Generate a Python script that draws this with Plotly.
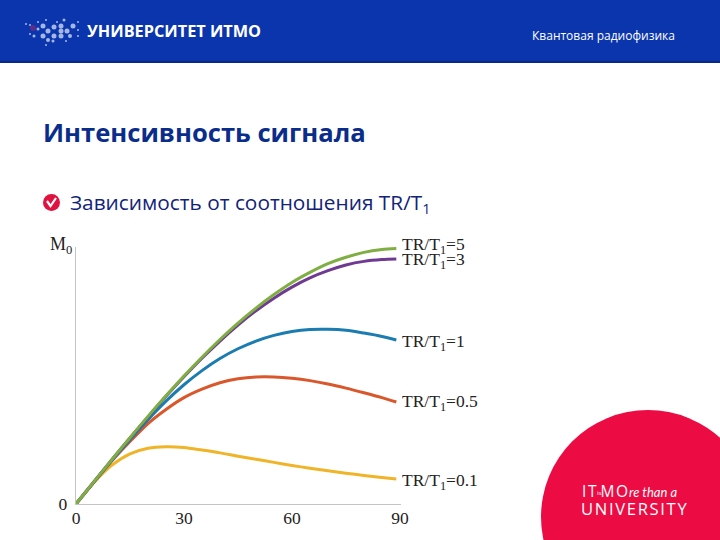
import plotly.graph_objects as go

angles = [0, 5, 10, 15, 20, 25, 30, 35, 40, 45, 50, 55, 60, 65, 70, 75, 80, 85, 89]
s_5 = [0, .087, .173, .258, .341, .421, .498, .571, .640, .704, .762, .815, .862, .901, .935, .960, .979, .990, .994]
s_3 = [0, .087, .173, .257, .339, .419, .495, .567, .634, .696, .752, .801, .844, .880, .908, .930, .944, .951, .953]
s_1 = [0, .086, .170, .250, .328, .400, .464, .519, .566, .604, .634, .656, .671, .679, .680, .676, .665, .652, .638]
s_05 = [0, .085, .168, .243, .313, .368, .414, .447, .472, .487, .494, .494, .489, .480, .467, .451, .433, .414, .397]
s_01 = [0, .084, .151, .195, .217, .223, .220, .210, .199, .186, .174, .162, .150, .139, .129, .120, .111, .103, .097]
series = [s_01, s_05, s_1, s_3, s_5]
colors = ["#f0b429", "#d9572a", "#1a7cb0", "#6f3a92", "#7fae42"]
labels = ["0.1", "0.5", "1", "3", "5"]
label_py = [481, 402, 342, 260, 245]

logo_x = [43, 48, 54, 61, 67, 73, 43, 54, 61, 61, 48, 26, 30, 34, 38, 38, 46, 53, 57, 64, 70, 78, 78, 78, 66, 30, 46, 33]
logo_y = [26, 31, 27, 26, 31, 26, 36, 36, 31, 36, 40, 24, 34, 36, 29, 22, 20, 41, 22, 20, 36, 22, 30, 36, 41, 25, 45, 28]
logo_s = [5, 5, 5, 5, 5, 5, 5, 5, 5, 5, 4, 2, 2, 3, 3, 2, 2, 3, 2, 3, 4, 2, 2, 2, 2, 2, 2, 6]
logo_c = ["#e8eefb"] * 27 + ["#7a2a7a"]

SANS = "Open Sans"
SERIF = "Liberation Serif"
fig = go.Figure()
for ys, c in zip(series, colors):
    fig.add_trace(go.Scatter(x=angles, y=ys, mode="lines", line=dict(color=c, width=3, shape="spline", smoothing=0.8), showlegend=False, hoverinfo="skip"))
fig.add_trace(go.Scatter(x=logo_x, y=logo_y, xaxis="x2", yaxis="y2", mode="markers", marker=dict(color=logo_c, size=logo_s, line_width=0), showlegend=False, hoverinfo="skip"))

shapes = [
    dict(type="rect", xref="x2", yref="y2", x0=0, x1=720, y0=0, y1=62, fillcolor="#0a35ad", line_width=0, layer="below"),
    dict(type="rect", xref="x2", yref="y2", x0=0, x1=720, y0=61, y1=63, fillcolor="#0a2a80", line_width=0, layer="below"),
    dict(type="circle", xref="x2", yref="y2", x0=541, x1=755, y0=410, y1=624, fillcolor="#ec0b43", line_width=0, layer="below"),
    dict(type="circle", xref="x2", yref="y2", x0=43, x1=60, y0=194, y1=211, fillcolor="#e0123f", line_width=0, layer="below"),
    dict(type="path", xref="x2", yref="y2", path="M47,201 L50.5,206 L56,198", line=dict(color="white", width=2.2)),
]
def note(text, px, py, size, color="#000", font=SANS, anchor="left", **kw):
    return dict(text=text, xref="x2", yref="y2", x=px, y=py, xanchor=anchor, yanchor="middle", showarrow=False, font=dict(family=font, size=size, color=color), **kw)

H = "\u200a"
anns = [
    note("<b>УНИВЕРСИТЕТ ИТМО</b>", 85, 31, 16.3, "white"),
    note("Квантовая радиофизика", 530, 35, 12, "white"),
    note("<b>Интенсивность сигнала</b>", 41, 132, 25.6, "#0a2d8c"),
    note("Зависимость от соотношения TR/T<sub>1</sub>", 68, 203, 20.8, "#13237a"),
    note(H.join("IT") + " " + H.join("MO"), 580, 491, 15.5, "white"),
    note("is", 595, 493, 6, "white"),
    note("<i>re than a</i>", 627, 492, 13, "white", font="Lato"),
    note(H.join("UNIVERSITY"), 579, 508, 16.6, "white"),
    note("M<sub>0</sub>", 48, 245, 18, "#222", font=SERIF),
]
for lab, py in zip(labels, label_py):
    anns.append(note(f"TR/T<sub>1</sub>={lab}", 400, py, 17.5, "#222", font=SERIF))

fig.update_layout(
    width=720, height=540, margin=dict(l=0, r=0, t=0, b=0, autoexpand=False), paper_bgcolor="white", plot_bgcolor="rgba(0,0,0,0)",
    shapes=shapes, annotations=anns,
    xaxis=dict(domain=[76 / 720, 401 / 720], range=[0, 90.3], tickvals=[0, 30, 60, 90], showgrid=False, zeroline=False, showline=True, linecolor="#c4c4c4", linewidth=1, ticks="", ticklabelstandoff=-2, tickfont=dict(family=SERIF, size=17.5, color="#222"), anchor="y", fixedrange=True),
    yaxis=dict(domain=[36 / 540, 293 / 540], range=[0, 1], tickvals=[0], ticktext=["0\u00a0"], showgrid=False, zeroline=False, showline=True, linecolor="#c4c4c4", linewidth=1, ticks="", tickfont=dict(family=SERIF, size=17.5, color="#222"), anchor="x", fixedrange=True),
    xaxis2=dict(domain=[0, 1], range=[0, 720], visible=False, anchor="y2", fixedrange=True),
    yaxis2=dict(domain=[0, 1], range=[540, 0], visible=False, anchor="x2", fixedrange=True),
)
css = "var s=document.createElement('style');s.textContent='html,body{margin:0!important;padding:0!important;overflow:hidden;width:720px;height:540px}';document.head.appendChild(s);"
fig.write_html("out.html", config=dict(displayModeBar=False), default_width="720px", default_height="540px", post_script=css)
